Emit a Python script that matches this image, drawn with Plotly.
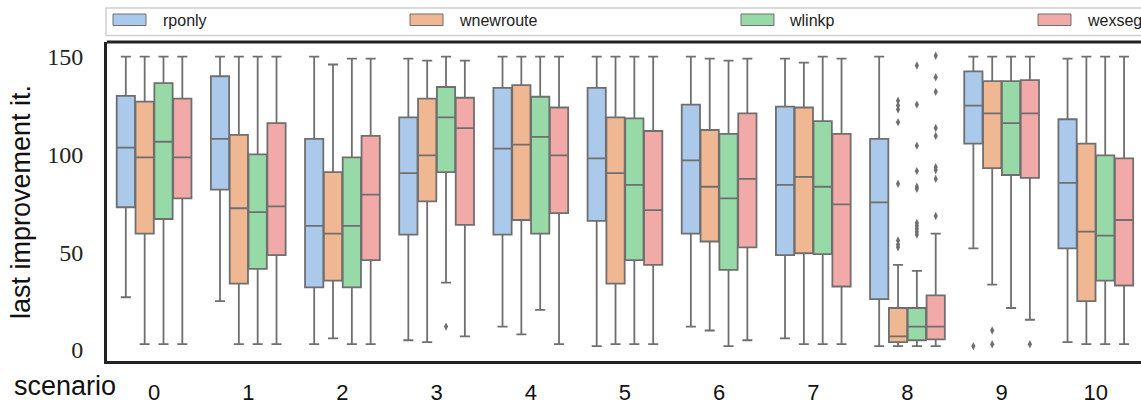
import plotly.graph_objects as go

scenarios = [0, 1, 2, 3, 4, 5, 6, 7, 8, 9, 10]
tick_labels = [str(s) for s in scenarios]
methods = ["rponly", "wnewroute", "wlinkp", "wexseg"]

# box statistics per method: lower fence, q1, median, q3, upper fence (one per scenario)
rponly_lf = [27, 25, 3, 5, 12, 2, 12, 6, 2, 52, 4]
rponly_q1 = [73, 82, 32, 59, 59, 66, 59.5, 48.5, 26, 105.5, 52]
rponly_med = [103.5, 108, 63.5, 90.5, 103, 98, 97, 84.5, 75.5, 125, 85.5]
rponly_q3 = [130, 140, 108, 119, 134, 134, 125.5, 124.5, 108, 142.5, 118]
rponly_uf = [150, 150, 150, 149, 150, 150, 150, 149, 150, 150, 149]

wnewroute_lf = [3, 3, 6, 4, 8, 3, 10, 3, 2, 33.5, 3]
wnewroute_q1 = [59.5, 34, 35.5, 76, 66.5, 34, 55.5, 49.5, 4, 93, 25]
wnewroute_med = [98.5, 72.5, 59.5, 99.5, 105, 90.5, 83.5, 88.5, 7, 121, 60.5]
wnewroute_q3 = [127, 110, 91, 128.5, 135.5, 119, 112.5, 124, 21.5, 137.5, 105.5]
wnewroute_uf = [150, 150, 146, 148, 150, 150, 149, 147, 43.5, 150, 150]

wlinkp_lf = [3, 3, 3, 34.5, 20.5, 3, 2, 3, 2, 21.5, 3]
wlinkp_q1 = [67, 41.5, 32, 91, 59.5, 46, 41, 49, 5, 89.5, 35.5]
wlinkp_med = [106.5, 70.5, 63.5, 119, 109, 84.5, 77.5, 83.5, 12, 116, 58.5]
wlinkp_q3 = [136.5, 100, 98.5, 134.5, 129.5, 118.5, 110.5, 117, 21.5, 137.5, 99.5]
wlinkp_uf = [150, 150, 149, 150, 150, 150, 148, 150, 40.5, 150, 150]

wexseg_lf = [3, 3, 3, 7, 3, 3, 5, 3, 2, 15.5, 3]
wexseg_q1 = [77.5, 48.5, 46, 64, 70, 43.5, 52.5, 32.5, 5.5, 88, 33]
wexseg_med = [98.5, 73.5, 79.5, 113.5, 99.5, 71.5, 87.5, 74.5, 12, 121, 66.5]
wexseg_q3 = [128.5, 116, 109.5, 129, 124, 112, 121, 110.5, 28, 138, 98]
wexseg_uf = [150, 150, 149, 148, 150, 150, 149, 149, 59.5, 150, 150]

# outliers: scenario -> values
rponly_out = {9: [2]}
wnewroute_out = {8: [52.5, 54, 56, 85, 116.5, 123, 125, 127.5], 9: [3, 10]}
wlinkp_out = {3: [12], 8: [59, 60.5, 62, 63.5, 65, 82.5, 83.5, 91.5, 104.5, 125.5, 145.5]}
wexseg_out = {8: [68.5, 87.5, 92, 93.5, 109.5, 113.5, 132, 139.5, 150.5], 9: [3]}

stats = {
    "rponly": (rponly_lf, rponly_q1, rponly_med, rponly_q3, rponly_uf, rponly_out),
    "wnewroute": (wnewroute_lf, wnewroute_q1, wnewroute_med, wnewroute_q3, wnewroute_uf, wnewroute_out),
    "wlinkp": (wlinkp_lf, wlinkp_q1, wlinkp_med, wlinkp_q3, wlinkp_uf, wlinkp_out),
    "wexseg": (wexseg_lf, wexseg_q1, wexseg_med, wexseg_q3, wexseg_uf, wexseg_out),
}

colors = ["#abc9ea", "#efb792", "#98daa7", "#f2aaa8"]
line_gray = "#6f6f6f"
group_width = 0.8
box_w = group_width / len(methods)

fig = go.Figure()
for i, m in enumerate(methods):
    lf, q1, med, q3, uf, outs = stats[m]
    off = (i - (len(methods) - 1) / 2) * box_w
    xs = [s + off for s in scenarios]
    fig.add_trace(go.Box(
        x=xs, lowerfence=lf, q1=q1, median=med, q3=q3, upperfence=uf,
        width=box_w * 0.97, whiskerwidth=0.55,
        fillcolor=colors[i], line=dict(color=line_gray, width=1.8),
        boxpoints=False, name=m, showlegend=False,
    ))
    ox, oy = [], []
    for s, vals in outs.items():
        for v in vals:
            ox.append(s + off)
            oy.append(v)
    fig.add_trace(go.Scatter(
        x=ox, y=oy, mode="markers", showlegend=False,
        marker=dict(symbol="diamond-tall", size=6, color=line_gray,
                    line=dict(width=0)),
    ))

# layout geometry (pixels)
W, H = 1141, 404
L, R, T, B = 107, 0, 42, 43
pw, ph = W - L - R, H - T - B


def px(x):
    return (x - L) / pw


def py(y):
    return (H - B - y) / ph


shapes = []
annotations = []
# top frame line
shapes.append(dict(type="line", xref="paper", yref="paper", x0=0, x1=1, y0=1, y1=1,
                   line=dict(color="#222222", width=3)))
# legend frame
shapes.append(dict(type="rect", xref="paper", yref="paper",
                   x0=px(106), x1=px(1150), y0=py(35.5), y1=py(8),
                   line=dict(color="#d0d0d0", width=1.5), fillcolor="white", layer="below"))
patch_x = [113, 410, 741, 1038]
text_x = [161, 457, 787, 1085]
for i, m in enumerate(methods):
    shapes.append(dict(type="rect", xref="paper", yref="paper",
                       x0=px(patch_x[i]), x1=px(patch_x[i] + 33), y0=py(25.5), y1=py(14),
                       line=dict(color=line_gray, width=1), fillcolor=colors[i]))
    annotations.append(dict(text=m, xref="paper", yref="paper", x=px(text_x[i]), y=py(20),
                            xanchor="left", yanchor="middle", showarrow=False,
                            font=dict(family="Liberation Sans", size=16, color="#222222")))

annotations.append(dict(text="scenario", xref="paper", yref="paper", x=px(12), y=py(386),
                        xanchor="left", yanchor="middle", showarrow=False,
                        font=dict(family="Liberation Sans", size=27, color="#111111")))
annotations.append(dict(text="last improvement it.", xref="paper", yref="paper",
                        x=px(21), y=py(202), xanchor="center", yanchor="middle",
                        textangle=-90, showarrow=False,
                        font=dict(family="Liberation Sans", size=27, color="#111111")))

fig.update_layout(
    width=W, height=H, margin=dict(l=L, r=R, t=T, b=B, pad=0, autoexpand=False),
    paper_bgcolor="white", plot_bgcolor="white",
    boxmode="overlay", shapes=shapes, annotations=annotations,
    xaxis=dict(range=[-0.5, 10.48], tickvals=scenarios, ticktext=tick_labels,
               showline=True, linewidth=3, linecolor="#222222", showgrid=False,
               zeroline=False, ticks="", ticklabelstandoff=10, automargin=False,
               tickfont=dict(family="Liberation Sans", size=22, color="#111111")),
    yaxis=dict(range=[-5.6, 157.5], tickvals=[0, 50, 100, 150],
               showline=True, linewidth=3, linecolor="#222222", showgrid=False,
               zeroline=False, ticks="", ticklabelstandoff=16, automargin=False,
               tickfont=dict(family="Liberation Serif", size=24, color="#222222")),
)

fig.write_html(
    "out.html",
    config={"displayModeBar": False},
    post_script="document.body.style.margin='0';document.body.style.overflow='hidden';",
)
